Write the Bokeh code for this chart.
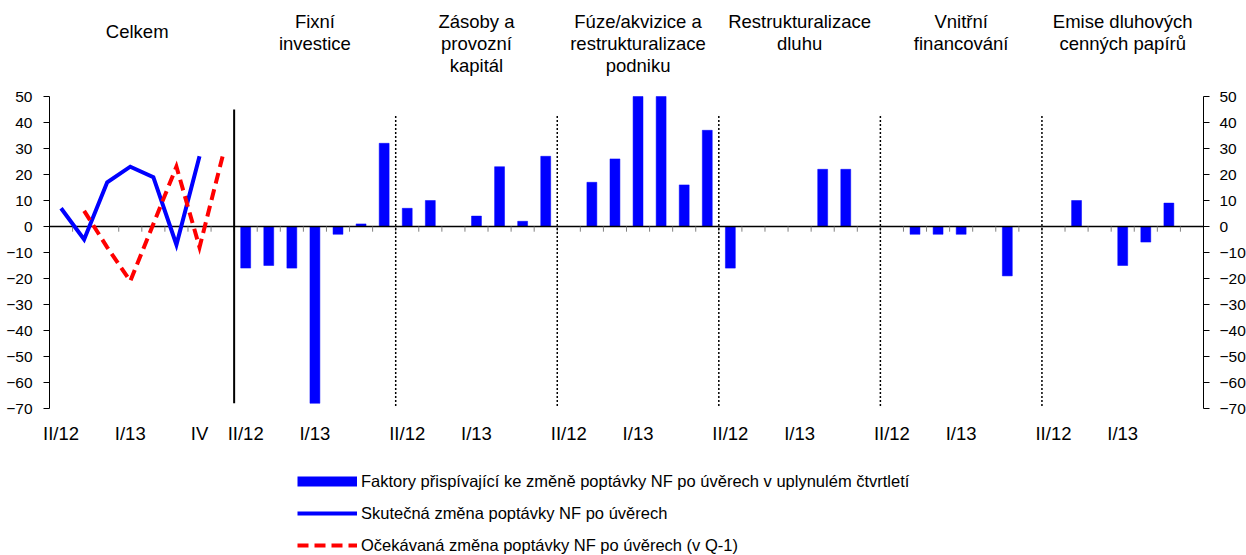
import math
from bokeh.plotting import figure
from bokeh.models import (Range1d, LinearAxis, FixedTicker, Label, Legend,
                          LegendItem, ColumnDataSource)
from bokeh.embed import file_html
from bokeh.resources import INLINE

# ---------------- data ----------------
quarters = ["II/12", "III/12", "IV/12", "I/13", "II/13", "III/13", "IV/13"]
celkem_tick_labels = ["II/12", "", "", "I/13", "", "", "IV", ""]
group_tick_labels = ["II/12", "", "", "I/13", "", "", ""]

group_titles = [
    ["Fixní", "investice"],
    ["Zásoby a", "provozní", "kapitál"],
    ["Fúze/akvizice a", "restrukturalizace", "podniku"],
    ["Restrukturalizace", "dluhu"],
    ["Vnitřní", "financování"],
    ["Emise dluhových", "cenných papírů"],
]
celkem_title = "Celkem"

actual_change = [7, -5, 17, 23, 19, -7, 27]        # Skutečná změna (II/12 .. IV/13)
expected_change = [6, -8, -21, 1, 23, -8, 27]      # Očekávaná změna (v Q-1), shifted one quarter

fixni_investice = [-16, -15, -16, -68, -3, 1, 32]
zasoby_kapital = [7, 10, 0, 4, 23, 2, 27]
fuze_akvizice = [0, 17, 26, 50, 50, 16, 37]
restrukturalizace_dluhu = [-16, 0, 0, 0, 22, 22, 0]
vnitrni_financovani = [0, -3, -3, -3, 0, -19, 0]
emise_cp = [0, 10, 0, -15, -6, 9, 0]
factor_groups = [fixni_investice, zasoby_kapital, fuze_akvizice,
                 restrukturalizace_dluhu, vnitrni_financovani, emise_cp]

legend_labels = [
    "Faktory přispívající ke změně poptávky NF po úvěrech v uplynulém čtvrtletí",
    "Skutečná změna poptávky NF po úvěrech",
    "Očekávaná změna poptávky NF po úvěrech (v Q-1)",
]

# ---------------- layout helpers ----------------
BLUE = "#0000FF"
RED = "#FF0000"
FONT = "Liberation Sans"
W, H = 1246, 555
PX_PER_UNIT = 2.6          # vertical scale
ZERO_PX = 226              # screen row of the value 0
LEFT_PX, RIGHT_PX = 49, 1203
Y_MIN, Y_MAX = -70, 50

n_celkem = len(celkem_tick_labels)          # 8 slots
n_q = len(quarters)                          # 7 slots per factor group
group_starts = [n_celkem + g * n_q for g in range(len(factor_groups))]
n_total = n_celkem + n_q * len(factor_groups)
PX_PER_SLOT = (RIGHT_PX - LEFT_PX) / n_total

def ydata(py):
    return (ZERO_PX - py) / PX_PER_UNIT

def xdata(px):
    return (px - LEFT_PX) / PX_PER_SLOT

bar_x, bar_top = [], []
for s, vals in zip(group_starts, factor_groups):
    for i, v in enumerate(vals):
        bar_x.append(s + i + 0.5)
        bar_top.append(v)

tick_pos, tick_lab = [], {}
for i, t in enumerate(celkem_tick_labels):
    if t:
        tick_pos.append(i + 0.5)
        tick_lab[i + 0.5] = t
for s in group_starts:
    for i, t in enumerate(group_tick_labels):
        if t:
            tick_pos.append(s + i + 0.5)
            tick_lab[s + i + 0.5] = t

p = figure(width=W, height=H, x_range=Range1d(xdata(0), xdata(W)),
           y_range=Range1d(ydata(H), ydata(0)),
           output_backend="svg", toolbar_location=None,
           min_border_left=0, min_border_right=0, min_border_top=0, min_border_bottom=0)
p.outline_line_color = None
p.xgrid.visible = False
p.ygrid.visible = False
p.background_fill_color = "white"
p.border_fill_color = "white"

# x axis (labels only), pinned under the value range
xa = p.xaxis[0]
xa.fixed_location = Y_MIN
xa.ticker = FixedTicker(ticks=tick_pos)
xa.major_label_overrides = tick_lab
xa.axis_line_color = None
xa.major_tick_line_color = None
xa.minor_tick_line_color = None
xa.major_label_standoff = 8
xa.major_label_text_font = FONT
xa.major_label_text_font_size = "18.5px"
xa.major_label_text_color = "black"

# y axes, pinned to both ends of the category range
yticks = FixedTicker(ticks=list(range(Y_MIN, Y_MAX + 1, 10)))
ya = p.yaxis[0]
ya.fixed_location = 0
ra = LinearAxis(fixed_location=n_total)
p.add_layout(ra, "right")
for a in (ya, ra):
    a.ticker = yticks
    a.bounds = (Y_MIN, Y_MAX)
    a.axis_line_color = "black"
    a.axis_line_width = 1
    a.major_tick_line_color = "black"
    a.major_tick_out = 6
    a.major_tick_in = 0
    a.minor_tick_line_color = None
    a.major_label_text_font = FONT
    a.major_label_text_font_size = "15.5px"
    a.major_label_text_color = "black"
ya.major_label_standoff = 11
ra.major_label_standoff = 10

# bars
p.vbar(x=bar_x, top=bar_top, bottom=0, width=0.43, fill_color=BLUE, line_color=BLUE,
       line_width=0.5)

# zero line + small category ticks
p.segment(x0=[0], y0=[0], x1=[n_total], y1=[0], line_color="black", line_width=1.5)
bounds = list(range(1, n_total))
p.segment(x0=bounds, y0=[0] * len(bounds), x1=bounds, y1=[-2.0] * len(bounds),
          line_color="#808080", line_width=1)

# separators
p.segment(x0=[n_celkem], y0=[-68], x1=[n_celkem], y1=[45], line_color="black", line_width=2)
sep = group_starts[1:]
p.segment(x0=sep, y0=[-69] * len(sep), x1=sep, y1=[43] * len(sep),
          line_color="black", line_width=1.5, line_dash="2 2")

# lines (Celkem)
r_act = p.line(x=[i + 0.5 for i in range(len(actual_change))], y=actual_change,
               line_color=BLUE, line_width=4, line_join="miter")
r_exp = p.line(x=[i + 1.5 for i in range(len(expected_change))], y=expected_change,
               line_color=RED, line_width=4, line_dash="11 6", line_join="miter")

# group titles
p.add_layout(Label(x=n_celkem / 2 - 0.2, y=ydata(31), text=celkem_title, text_align="center",
                   text_baseline="middle", text_font=FONT, text_font_size="18.5px",
                   text_color="black"))
line_y = [21, 43, 65]
for s, lines in zip(group_starts, group_titles):
    cx = s + n_q / 2
    for k, t in enumerate(lines):
        p.add_layout(Label(x=cx, y=ydata(line_y[k]), text=t, text_align="center",
                           text_baseline="middle", text_font=FONT, text_font_size="18.5px",
                           text_color="black"))

# legend (bar swatch drawn as a thick line, like the reference)
nan_src = ColumnDataSource(data=dict(x=[math.nan], y=[math.nan]))
r_bar = p.line("x", "y", source=nan_src, line_color=BLUE, line_width=10, line_cap="butt")
legend = Legend(items=[LegendItem(label=legend_labels[0], renderers=[r_bar]),
                       LegendItem(label=legend_labels[1], renderers=[r_act]),
                       LegendItem(label=legend_labels[2], renderers=[r_exp])],
                location=(297, 0), orientation="vertical",
                glyph_width=60, glyph_height=20, label_height=20, spacing=12,
                label_standoff=4, padding=0, margin=0,
                border_line_color=None, background_fill_alpha=0,
                label_text_font=FONT, label_text_font_size="16.5px",
                label_text_color="black")
p.add_layout(legend, "center")

open("out.html", "w").write(file_html(p, INLINE))
